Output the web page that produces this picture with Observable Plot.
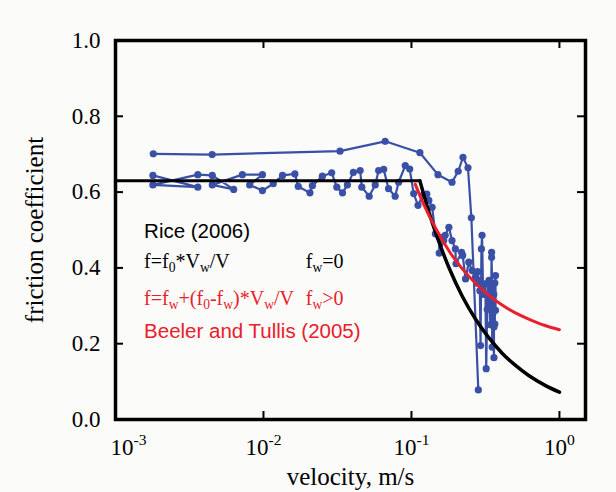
<!DOCTYPE html>
<html><head><meta charset="utf-8">
<script src="https://cdn.jsdelivr.net/npm/d3@7"></script>
<script src="https://cdn.jsdelivr.net/npm/@observablehq/plot@0.6"></script>
<style>
html,body{margin:0;padding:0;background:#fbfbf9;}
</style></head><body><div id="chart"></div>
<script>
// axis ticks
const xTicks = [0.001, 0.01, 0.1, 1];
const xTickLabels = ["10^-3", "10^-2", "10^-1", "10^0"];
const yTicks = [0, 0.2, 0.4, 0.6, 0.8, 1.0];

// measured friction data (blue), upper run
const upperV = [0.0018, 0.0045, 0.0329, 0.0664, 0.114, 0.151, 0.188, 0.207, 0.223, 0.241, 0.254, 0.283];
const upperF = [0.701, 0.699, 0.708, 0.734, 0.704, 0.646, 0.626, 0.655, 0.692, 0.664, 0.532, 0.078];

// measured friction data (blue), lower run
const lowerV = [0.00179, 0.0036, 0.00179, 0.0036, 0.00451, 0.00629, 0.00451, 0.0072, 0.00984, 0.00807,
  0.00984, 0.01164, 0.01345, 0.0163, 0.01718, 0.0206, 0.0214, 0.025, 0.0289, 0.0313,
  0.0342, 0.0369, 0.0405, 0.045, 0.0462, 0.0518, 0.0569, 0.06, 0.0649, 0.07,
  0.0776, 0.0819, 0.0908, 0.0973, 0.1035, 0.1107, 0.119, 0.127, 0.131, 0.138,
  0.145, 0.154, 0.154, 0.165, 0.169, 0.179, 0.188, 0.198, 0.2, 0.218,
  0.222, 0.232, 0.244, 0.257, 0.271, 0.276, 0.28, 0.285, 0.29, 0.293,
  0.297, 0.3, 0.305, 0.309, 0.316, 0.32, 0.325, 0.33, 0.334, 0.34,
  0.345, 0.348, 0.348, 0.351, 0.351, 0.355, 0.361, 0.361, 0.366, 0.366,
  0.37, 0.37, 0.36, 0.35];
const lowerF = [0.644, 0.613, 0.619, 0.646, 0.644, 0.607, 0.619, 0.646, 0.646, 0.619,
  0.604, 0.622, 0.644, 0.648, 0.615, 0.598, 0.617, 0.642, 0.651, 0.613,
  0.598, 0.619, 0.652, 0.657, 0.613, 0.589, 0.619, 0.657, 0.66, 0.609,
  0.589, 0.626, 0.67, 0.661, 0.596, 0.565, 0.591, 0.595, 0.578, 0.56,
  0.49, 0.481, 0.439, 0.472, 0.486, 0.507, 0.472, 0.45, 0.411, 0.441,
  0.433, 0.371, 0.415, 0.393, 0.375, 0.36, 0.39, 0.367, 0.34, 0.195,
  0.45, 0.486, 0.33, 0.332, 0.358, 0.134, 0.29, 0.36, 0.367, 0.25,
  0.30, 0.441, 0.428, 0.349, 0.191, 0.28, 0.163, 0.244, 0.252, 0.36,
  0.38, 0.288, 0.33, 0.31];

// Rice (2006) model, black
const riceFlatV = [0.001, 0.114];
const riceFlatF = [0.63, 0.63];
const riceV = [0.114, 0.13, 0.15, 0.18, 0.22, 0.27, 0.33, 0.41, 0.5, 0.62, 0.8, 1.0];
const riceF = [0.63, 0.552, 0.479, 0.399, 0.326, 0.266, 0.218, 0.175, 0.144, 0.116, 0.09, 0.072];

// Beeler and Tullis (2005) model, red
const btV = [0.106, 0.12, 0.145, 0.18, 0.22, 0.27, 0.33, 0.41, 0.5, 0.62, 0.8, 1.0];
const btF = [0.621, 0.571, 0.506, 0.444, 0.398, 0.36, 0.329, 0.302, 0.282, 0.265, 0.248, 0.237];

// annotations
const noteText = ["Rice (2006)", "f=f_0*V_w/V", "f_w=0", "f=f_w+(f_0-f_w)*V_w/V", "f_w>0", "Beeler and Tullis (2005)"];
const noteV = [0.00156, 0.00156, 0.0193, 0.00156, 0.0193, 0.00156];
const noteF = [0.48, 0.401, 0.401, 0.303, 0.303, 0.214];
const noteSans = [true, false, false, false, false, true];
const noteRed = [false, false, false, true, true, true];

const BLUE = "#3a50a6", RED = "#e8202a";
const zip = (xs, ys) => xs.map((x, i) => ({x, y: ys[i]}));
const upper = zip(upperV, upperF), lower = zip(lowerV, lowerF);
const notes = noteText.map((t, i) => ({t, x: noteV[i], y: noteF[i], sans: noteSans[i], red: noteRed[i]}));

const W = 616, H = 492, ML = 115, MR = 31, MT = 40, MB = 73;
const innerW = W - ML - MR, innerH = H - MT - MB, TL = 8;
const fmt = d => xTickLabels[xTicks.indexOf(d)];
const FS = 23, LFS = 25;

const chart = Plot.plot({
  width: W, height: H, marginLeft: ML, marginRight: MR, marginTop: MT, marginBottom: MB,
  style: {background: "#fbfbf9", fontFamily: "'Liberation Serif', 'Times New Roman', serif", fontSize: FS + "px", color: "black"},
  x: {type: "log", domain: [0.001, 1.5]},
  y: {domain: [0, 1]},
  marks: [
    Plot.axisY({ticks: yTicks, tickSize: 0, tickPadding: 15, tickFormat: d => d.toFixed(1), fontSize: FS,
      label: "friction coefficient", labelAnchor: "center", labelOffset: 90, labelArrow: "none"}),
    Plot.axisX({ticks: xTicks.slice(0, 1), tickSize: 0, tickPadding: 19, tickFormat: fmt, fontSize: FS, dx: 13, label: null}),
    Plot.axisX({ticks: xTicks.slice(1), tickSize: 0, tickPadding: 19, tickFormat: fmt, fontSize: FS,
      label: "velocity, m/s", labelAnchor: "center", labelOffset: 65, labelArrow: "none"}),
    Plot.tickX(xTicks.slice(1), {x: d => d, insetTop: innerH - TL, stroke: "black", strokeWidth: 2}),
    Plot.tickX(xTicks.slice(1), {x: d => d, insetBottom: innerH - TL, stroke: "black", strokeWidth: 2}),
    Plot.tickY(yTicks.slice(1, -1), {y: d => d, insetRight: innerW - TL, stroke: "black", strokeWidth: 2}),
    Plot.tickY(yTicks.slice(1, -1), {y: d => d, insetLeft: innerW - TL, stroke: "black", strokeWidth: 2}),
    Plot.line(upper, {x: "x", y: "y", stroke: BLUE, strokeWidth: 2.2}),
    Plot.dot(upper, {x: "x", y: "y", r: 3.6, fill: BLUE, stroke: null}),
    Plot.line(lower, {x: "x", y: "y", stroke: BLUE, strokeWidth: 2.2}),
    Plot.dot(lower, {x: "x", y: "y", r: 3.6, fill: BLUE, stroke: null}),
    Plot.line(zip(riceFlatV, riceFlatF), {x: "x", y: "y", stroke: "black", strokeWidth: 3}),
    Plot.line(zip(riceV, riceF), {x: "x", y: "y", stroke: "black", strokeWidth: 3.5, curve: "natural"}),
    Plot.line(zip(btV, btF), {x: "x", y: "y", stroke: RED, strokeWidth: 3, curve: "natural"}),
    Plot.text(notes.filter(d => d.sans), {x: "x", y: "y", text: "t", textAnchor: "start", lineAnchor: "bottom",
      fill: d => d.red ? RED : "black", fontFamily: "'Liberation Sans', Arial, sans-serif", fontSize: 20.5}),
    Plot.text(notes.filter(d => !d.sans), {x: "x", y: "y", text: "t", textAnchor: "start", lineAnchor: "bottom",
      fill: d => d.red ? RED : "black", fontSize: 20, className: "formula"}),
    Plot.frame({stroke: "black", strokeWidth: 3.5})
  ]
});
document.getElementById("chart").append(chart);

// axis titles slightly larger than tick labels
d3.select(chart).selectAll('g[aria-label="x-axis label"], g[aria-label="y-axis label"]')
  .attr("font-size", LFS).selectAll("text").attr("font-size", LFS);

// turn "_x" (subscript one char) and "^rest" (superscript) into tspans
d3.select(chart).selectAll("text").each(function() {
  if (this.querySelector("tspan")) return;
  const s = this.textContent;
  if (!/[_^]/.test(s)) return;
  const fs = parseFloat(getComputedStyle(this).fontSize) || 20;
  const segs = [];
  let buf = "";
  for (let i = 0; i < s.length; i++) {
    const c = s[i];
    if (c === "_") { if (buf) segs.push({t: buf, k: 0}); buf = ""; segs.push({t: s[i + 1], k: 1}); i++; }
    else if (c === "^") { if (buf) segs.push({t: buf, k: 0}); buf = ""; segs.push({t: s.slice(i + 1), k: -1}); break; }
    else buf += c;
  }
  if (buf) segs.push({t: buf, k: 0});
  const t = d3.select(this);
  t.text(null);
  let cur = 0;
  for (const sg of segs) {
    const target = sg.k === 1 ? 0.22 * fs : sg.k === -1 ? -0.42 * fs : 0;
    const sp = t.append("tspan").text(sg.t).attr("dy", target - cur);
    if (sg.k !== 0) sp.attr("font-size", 0.68 * fs);
    cur = target;
  }
});
</script></body></html>
